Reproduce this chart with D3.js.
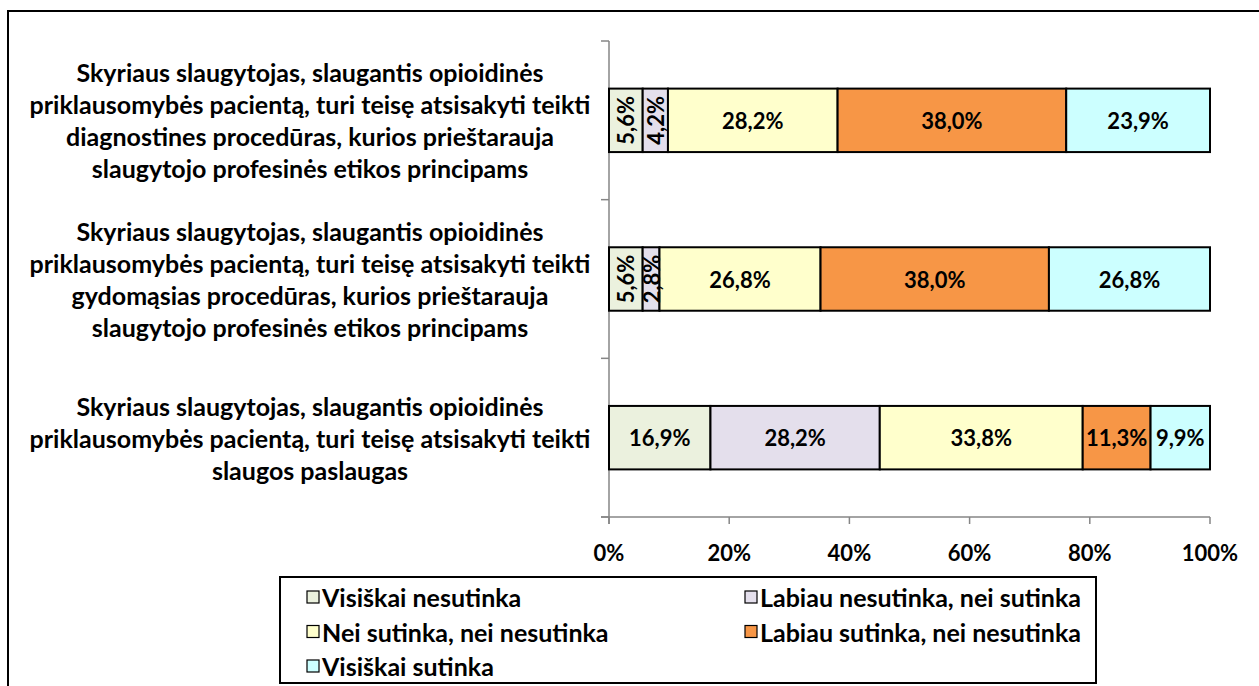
<!DOCTYPE html>
<html>
<head>
<meta charset="utf-8">
<script src="https://cdn.jsdelivr.net/npm/d3@7"></script>
<style>
  html, body { margin: 0; padding: 0; background: #fff; }
  svg { display: block; font-family: Lato, "Open Sans", sans-serif; font-weight: bold; }
</style>
</head>
<body>
<div id="chart"></div>
<script>
/* Percent-stacked horizontal bar chart: nurses' right to refuse care */

var categories = [
  ['Skyriaus slaugytojas, slaugantis opioidinės',
   'priklausomybės pacientą, turi teisę atsisakyti teikti',
   'diagnostines procedūras, kurios prieštarauja',
   'slaugytojo profesinės etikos principams'],
  ['Skyriaus slaugytojas, slaugantis opioidinės',
   'priklausomybės pacientą, turi teisę atsisakyti teikti',
   'gydomąsias procedūras, kurios prieštarauja',
   'slaugytojo profesinės etikos principams'],
  ['Skyriaus slaugytojas, slaugantis opioidinės',
   'priklausomybės pacientą, turi teisę atsisakyti teikti',
   'slaugos paslaugas']
];

var seriesNames = [
  'Visiškai nesutinka',
  'Labiau nesutinka, nei sutinka',
  'Nei sutinka, nei nesutinka',
  'Labiau sutinka, nei nesutinka',
  'Visiškai sutinka'
];

var seriesColors = ['#ebf1de', '#e4dfec', '#ffffcc', '#f79646', '#ccffff'];

// one array per series, in category order
var visiskaiNesutinka = [5.6, 5.6, 16.9];
var labiauNesutinka   = [4.2, 2.8, 28.2];
var neiSutinka        = [28.2, 26.8, 33.8];
var labiauSutinka     = [38.0, 38.0, 11.3];
var visiskaiSutinka   = [23.9, 26.8, 9.9];

var tickValues = [0, 0.2, 0.4, 0.6, 0.8, 1.0];

var W = 1259, H = 686;
var plot = { left: 609, right: 1210, top: 41, bottom: 517 };
var TEXT_SIZE = 25, NUM_SIZE = 22;

var svg = d3.select('#chart').append('svg')
  .attr('width', W)
  .attr('height', H);

// outer frame (runs off the right and bottom edges)
svg.append('rect')
  .attr('x', 8).attr('y', 11)
  .attr('width', W + 20).attr('height', H + 20)
  .attr('fill', 'none')
  .attr('stroke', '#000')
  .attr('stroke-width', 2);

var allSeries = [visiskaiNesutinka, labiauNesutinka, neiSutinka, labiauSutinka, visiskaiSutinka];

var rows = categories.map(function(c, i) {
  var total = d3.sum(allSeries, function(s) { return s[i]; });
  var acc = 0;
  var segs = allSeries.map(function(s, k) {
    var x0 = acc / total;
    acc += s[i];
    return { k: k, value: s[i], x0: x0, x1: acc / total };
  });
  return { idx: i, label: c, segs: segs };
});

var x = d3.scaleLinear().domain([0, 1]).range([plot.left, plot.right]);
var y = d3.scaleBand().domain(d3.range(categories.length))
  .range([plot.top, plot.bottom])
  .paddingInner(0.6).paddingOuter(0.3);

// band boundaries for category ticks
var bandEdges = d3.range(categories.length + 1).map(function(i) {
  return plot.top + i * (plot.bottom - plot.top) / categories.length;
});

// axes
var axisColor = '#868686';
svg.append('line')
  .attr('x1', plot.left).attr('x2', plot.left)
  .attr('y1', plot.top).attr('y2', plot.bottom + 7)
  .attr('stroke', axisColor).attr('stroke-width', 1.5);
svg.selectAll('.ytick').data(bandEdges).enter().append('line')
  .attr('x1', plot.left - 8).attr('x2', plot.left)
  .attr('y1', function(d) { return d; }).attr('y2', function(d) { return d; })
  .attr('stroke', axisColor).attr('stroke-width', 1.5);

svg.append('line')
  .attr('x1', plot.left - 8).attr('x2', plot.right)
  .attr('y1', plot.bottom).attr('y2', plot.bottom)
  .attr('stroke', axisColor).attr('stroke-width', 1.5);
svg.selectAll('.xtick').data(tickValues).enter().append('line')
  .attr('x1', function(d) { return x(d); }).attr('x2', function(d) { return x(d); })
  .attr('y1', plot.bottom).attr('y2', plot.bottom + 7)
  .attr('stroke', axisColor).attr('stroke-width', 1.5);
svg.selectAll('.xlabel').data(tickValues).enter().append('text')
  .attr('x', function(d) { return x(d); })
  .attr('y', plot.bottom + 44)
  .attr('text-anchor', 'middle')
  .attr('font-size', NUM_SIZE)
  .attr('fill', '#000')
  .text(function(d) { return d3.format('.0%')(d); });

// bars
var fmt = function(v) { return v.toFixed(1).replace('.', ',') + '%'; };

var row = svg.selectAll('.row').data(rows).enter().append('g');

row.selectAll('rect').data(function(d) { return d.segs.map(function(s) { s.row = d.idx; return s; }); })
  .enter().append('rect')
  .attr('x', function(d) { return x(d.x0); })
  .attr('y', function(d) { return y(d.row); })
  .attr('width', function(d) { return x(d.x1) - x(d.x0); })
  .attr('height', y.bandwidth())
  .attr('fill', function(d) { return seriesColors[d.k]; })
  .attr('stroke', '#000')
  .attr('stroke-width', 2);

row.selectAll('.val').data(function(d) { return d.segs; })
  .enter().append('text')
  .attr('font-size', NUM_SIZE)
  .attr('fill', '#000')
  .attr('text-anchor', 'middle')
  .attr('dominant-baseline', 'central')
  .attr('transform', function(d) {
    var cx = (x(d.x0) + x(d.x1)) / 2;
    var cy = y(d.row) + y.bandwidth() / 2;
    var vertical = (x(d.x1) - x(d.x0)) < 45;
    return 'translate(' + cx + ',' + cy + ')' + (vertical ? ' rotate(-90)' : '');
  })
  .text(function(d) { return fmt(d.value); });

// category labels
row.each(function(d) {
  var g = d3.select(this);
  var n = d.label.length, lh = 32;
  var cy = y(d.idx) + y.bandwidth() / 2;
  var t = g.append('text')
    .attr('font-size', TEXT_SIZE)
    .attr('text-anchor', 'middle')
    .attr('fill', '#000');
  d.label.forEach(function(line, j) {
    t.append('tspan')
      .attr('x', 310)
      .attr('y', cy + (j - (n - 1) / 2) * lh)
      .attr('dominant-baseline', 'central')
      .text(line);
  });
});

// legend
var legend = svg.append('g');
legend.append('rect')
  .attr('x', 280).attr('y', 577)
  .attr('width', 816).attr('height', 106)
  .attr('fill', '#fff')
  .attr('stroke', '#000')
  .attr('stroke-width', 2);

var legItems = legend.selectAll('.item').data(seriesNames).enter().append('g')
  .attr('transform', function(d, i) {
    var col = i % 2, r = Math.floor(i / 2);
    return 'translate(' + (307 + col * 438) + ',' + (597 + r * 34.5) + ')';
  });
legItems.append('rect')
  .attr('x', 0).attr('y', -6)
  .attr('width', 12).attr('height', 12)
  .attr('fill', function(d, i) { return seriesColors[i]; })
  .attr('stroke', '#000')
  .attr('stroke-width', 1.2);
legItems.append('text')
  .attr('x', 15)
  .attr('dominant-baseline', 'central')
  .attr('font-size', TEXT_SIZE)
  .attr('fill', '#000')
  .text(function(d) { return d; });
</script>
</body>
</html>
